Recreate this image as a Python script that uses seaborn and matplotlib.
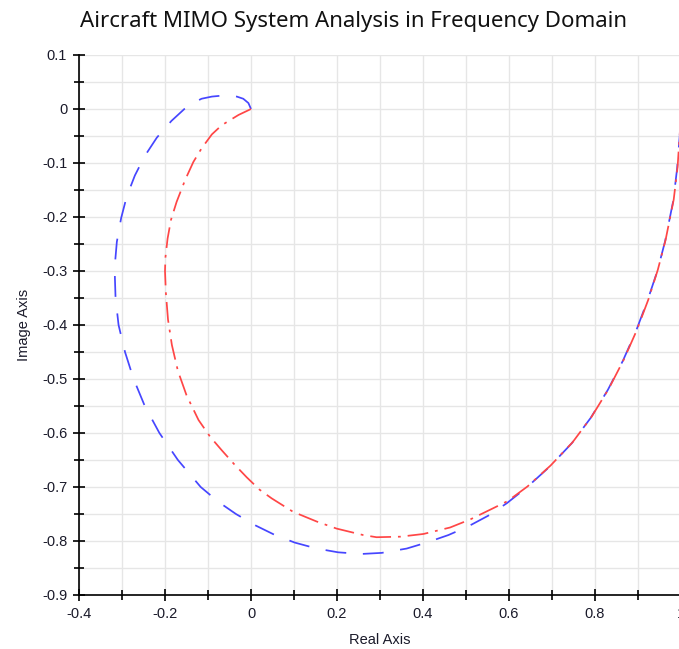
import matplotlib
matplotlib.use("Agg")
import matplotlib.pyplot as plt
import seaborn as sns
import pandas as pd
from matplotlib.ticker import MultipleLocator, FuncFormatter

# ---- data ----
blue_x = [0.000, -0.006, -0.018, -0.033, -0.064, -0.091, -0.115, -0.130, -0.155, -0.185,
          -0.219, -0.247, -0.270, -0.289, -0.302, -0.312, -0.316, -0.317, -0.315, -0.308,
          -0.293, -0.273, -0.247, -0.213, -0.170, -0.117, -0.075, -0.035, 0.010, 0.056,
          0.102, 0.153, 0.203, 0.257, 0.304, 0.362, 0.408, 0.459, 0.505, 0.552,
          0.595, 0.641, 0.695, 0.746, 0.790, 0.830, 0.865, 0.895, 0.922, 0.945,
          0.963, 0.982, 0.991, 0.997, 1.000]
blue_y = [0.000, 0.011, 0.019, 0.023, 0.025, 0.023, 0.019, 0.013, 0.000, -0.022,
          -0.053, -0.087, -0.123, -0.162, -0.202, -0.246, -0.283, -0.300, -0.350, -0.400,
          -0.450, -0.500, -0.550, -0.600, -0.650, -0.700, -0.728, -0.750, -0.771, -0.789,
          -0.803, -0.814, -0.821, -0.824, -0.822, -0.814, -0.803, -0.789, -0.773, -0.753,
          -0.730, -0.701, -0.662, -0.619, -0.572, -0.520, -0.466, -0.412, -0.355, -0.300,
          -0.245, -0.170, -0.110, -0.050, 0.000]

red_x = [0.000, -0.029, -0.068, -0.091, -0.115, -0.134, -0.153, -0.173, -0.186, -0.194,
         -0.199, -0.200, -0.198, -0.193, -0.184, -0.170, -0.150, -0.122, -0.095, -0.068,
         -0.040, -0.010, 0.020, 0.048, 0.098, 0.153, 0.199, 0.261, 0.292, 0.347,
         0.401, 0.463, 0.510, 0.564, 0.597, 0.643, 0.697, 0.748, 0.792, 0.832,
         0.867, 0.897, 0.924, 0.946, 0.964, 0.983, 0.992, 0.997, 1.000]
red_y = [0.000, -0.011, -0.030, -0.047, -0.073, -0.098, -0.131, -0.172, -0.205, -0.240,
         -0.275, -0.300, -0.340, -0.390, -0.437, -0.485, -0.530, -0.576, -0.607, -0.632,
         -0.657, -0.682, -0.705, -0.721, -0.746, -0.764, -0.777, -0.789, -0.793, -0.792,
         -0.787, -0.775, -0.760, -0.739, -0.726, -0.699, -0.660, -0.617, -0.570, -0.518,
         -0.464, -0.410, -0.353, -0.298, -0.243, -0.168, -0.108, -0.048, 0.000]

title = "Aircraft MIMO System Analysis in Frequency Domain"
x_label = "Real Axis"
y_label = "Image Axis"

# ---- style ----
sns.set_style("whitegrid")
plt.rcParams["font.family"] = ["Liberation Sans", "DejaVu Sans"]
plt.rcParams["axes.unicode_minus"] = False
plt.rcParams["lines.scale_dashes"] = False

W, H = 679, 649
fig = plt.figure(figsize=(W / 100, H / 100), dpi=100)
ax = fig.add_axes([79 / W, 1 - 595 / H, (681 - 79) / W, (595 - 55) / H])

sns.lineplot(x=blue_x, y=blue_y, sort=False, estimator=None, ax=ax,
             color="#4646ff", linewidth=1.25, linestyle=(0, (15, 12)))
sns.lineplot(x=red_x, y=red_y, sort=False, estimator=None, ax=ax,
             color="#ff4646", linewidth=1.25, linestyle=(0, (15, 5, 2, 5)))

ax.set_xlim(-0.4, 1.0)
ax.set_ylim(-0.9, 0.1)

ax.xaxis.set_major_locator(MultipleLocator(0.2))
ax.xaxis.set_minor_locator(MultipleLocator(0.1))
ax.yaxis.set_major_locator(MultipleLocator(0.1))
ax.yaxis.set_minor_locator(MultipleLocator(0.05))


def fmt(v, _):
    r = round(v, 2)
    if abs(r) < 1e-9:
        return "0"
    return "%g" % r


ax.xaxis.set_major_formatter(FuncFormatter(fmt))
ax.yaxis.set_major_formatter(FuncFormatter(fmt))

ax.grid(True, which="both", color="#e6e6e6", linewidth=1.0)
ax.set_axisbelow(True)

for s in ("top", "right"):
    ax.spines[s].set_visible(False)
for s in ("left", "bottom"):
    ax.spines[s].set_visible(True)
    ax.spines[s].set_color("black")
    ax.spines[s].set_linewidth(1.2)

ax.tick_params(which="major", direction="inout", length=9, width=1.2,
               color="black", labelsize=10.5, labelcolor="#1a1a2a",
               bottom=True, left=True, pad=4)
ax.tick_params(which="minor", direction="inout", length=7, width=1.2,
               color="black", bottom=True, left=True)

ax.set_xlabel(x_label, fontsize=10.5, color="#1a1a2a", labelpad=9)
ax.set_ylabel(y_label, fontsize=10.5, color="#1a1a2a", labelpad=8)

fig.text(354 / W, 1 - 22 / H, title, ha="center", va="center",
         fontsize=16, family=["Noto Sans", "DejaVu Sans"], color="#111111")

fig.savefig("out.png", dpi=100)
